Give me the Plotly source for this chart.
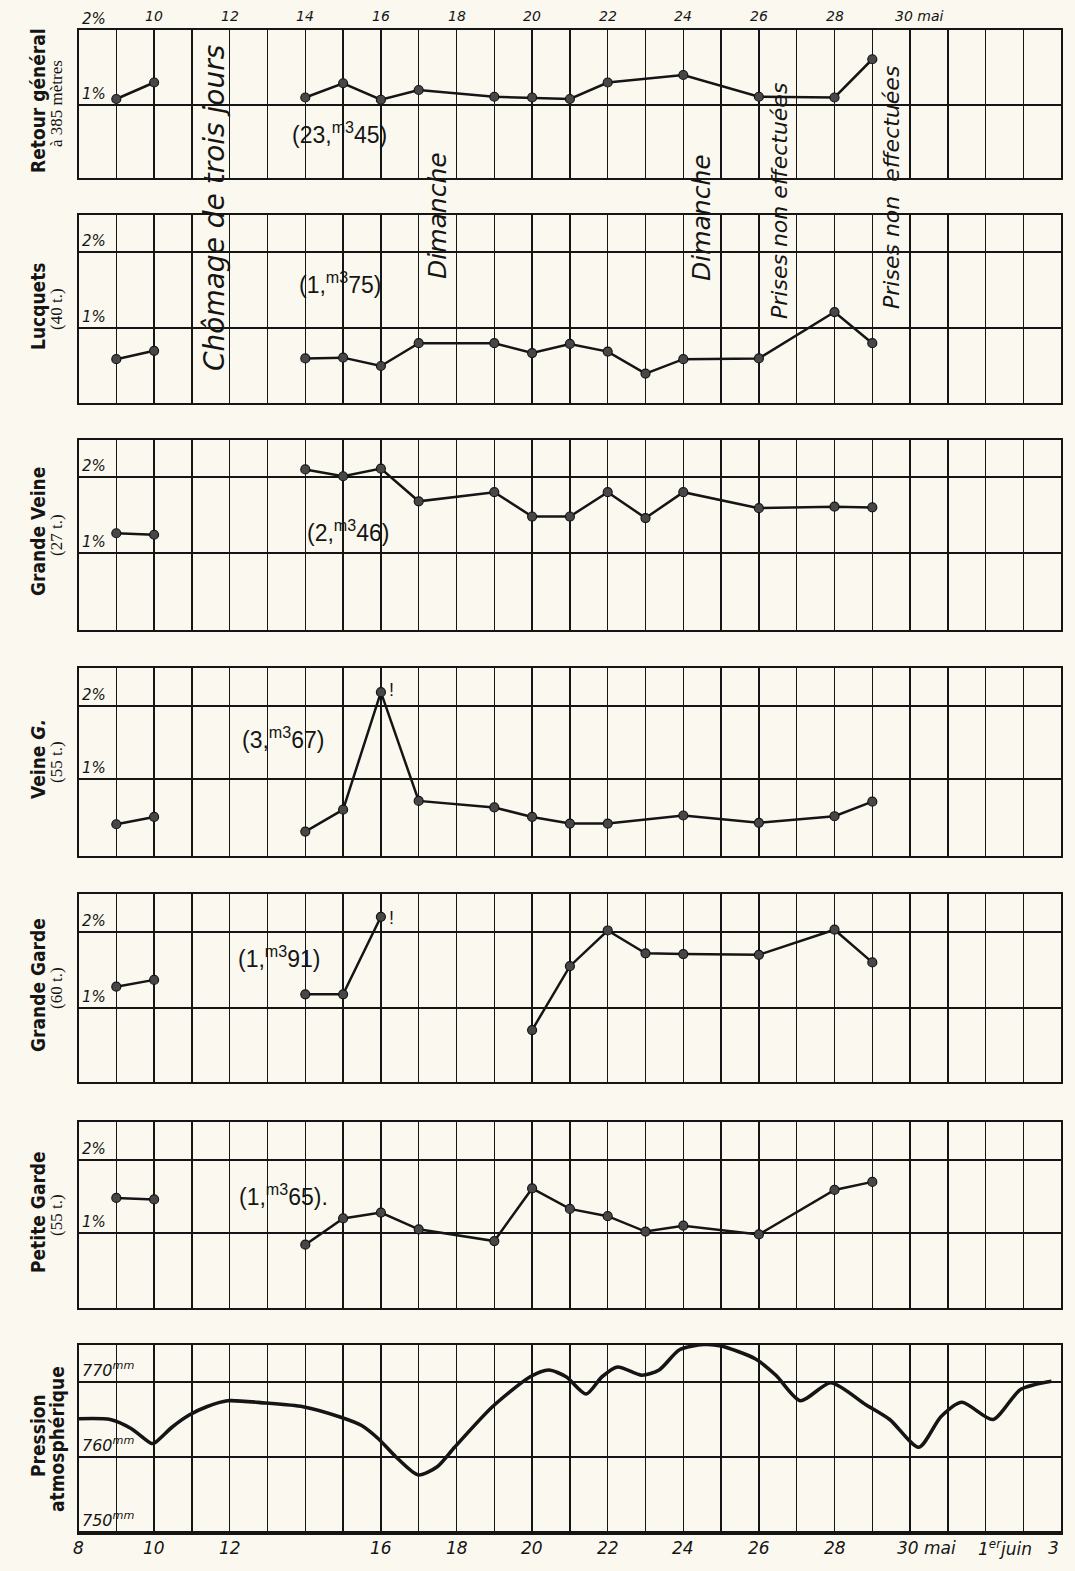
import plotly.graph_objects as go

# ---------------------------------------------------------------- data
# x = day of May (31 = 31 mai, 32 = 1er juin, 34 = 3 juin)
days_retour = [9, 10, 14, 15, 16, 17, 19, 20, 21, 22, 24, 26, 28, 29]
retour = [1.08, 1.30, 1.10, 1.29, 1.07, 1.20, 1.11, 1.10, 1.08, 1.30, 1.40, 1.11, 1.10, 1.61]

days_lucquets = [9, 10, 14, 15, 16, 17, 19, 20, 21, 22, 23, 24, 26, 28, 29]
lucquets = [0.59, 0.70, 0.60, 0.61, 0.50, 0.80, 0.80, 0.67, 0.79, 0.69, 0.40, 0.59, 0.60, 1.21, 0.80]

days_gveine = [9, 10, 14, 15, 16, 17, 19, 20, 21, 22, 23, 24, 26, 28, 29]
grande_veine = [1.26, 1.24, 2.10, 2.01, 2.11, 1.68, 1.80, 1.48, 1.48, 1.80, 1.46, 1.80, 1.59, 1.61, 1.60]

days_veineg = [9, 10, 14, 15, 16, 17, 19, 20, 21, 22, 24, 26, 28, 29]
veine_g = [0.38, 0.48, 0.28, 0.58, 2.19, 0.70, 0.61, 0.48, 0.39, 0.39, 0.50, 0.40, 0.49, 0.69]

days_ggarde = [9, 10, 14, 15, 16, 20, 21, 22, 23, 24, 26, 28, 29]
grande_garde = [1.28, 1.37, 1.18, 1.18, 2.20, 0.71, 1.55, 2.02, 1.72, 1.71, 1.70, 2.03, 1.60]

days_pgarde = [9, 10, 14, 15, 16, 17, 19, 20, 21, 22, 23, 24, 26, 28, 29]
petite_garde = [1.48, 1.46, 0.84, 1.20, 1.28, 1.05, 0.89, 1.61, 1.33, 1.23, 1.02, 1.10, 0.98, 1.59, 1.70]

days_pression = [8.0, 8.84, 9.39, 9.93, 10.02, 10.48, 10.93, 11.39, 11.94, 12.94, 13.94, 14.94,
                 15.49, 15.94, 16.4, 16.99, 17.49, 17.95, 18.95, 19.95, 20.44, 20.9, 21.43,
                 21.85, 22.26, 22.9, 23.36, 23.9, 24.54, 25.0, 25.9, 26.45, 27.1, 27.9, 28.82,
                 29.46, 30.23, 30.82, 31.37, 32.19, 32.92, 33.74]
pression = [765.1, 765.0, 763.8, 761.8, 761.9, 764.0, 765.6, 766.7, 767.5, 767.2, 766.7, 765.3,
            764.2, 762.4, 760.0, 757.6, 758.7, 761.3, 766.7, 770.7, 771.6, 770.7, 768.4,
            770.7, 772.0, 770.9, 771.6, 774.3, 775.0, 774.8, 773.1, 770.9, 767.5, 769.9, 767.0,
            765.0, 761.3, 765.4, 767.3, 765.0, 769.0, 770.1]

volumes = ["(23,<sup>m3</sup>45)", "(1,<sup>m3</sup>75)", "(2,<sup>m3</sup>46)", "(3,<sup>m3</sup>67)",
           "(1,<sup>m3</sup>91)", "(1,<sup>m3</sup>65)."]

panel_titles = ["Retour général", "Lucquets", "Grande Veine", "Veine <i>G.</i>",
                "Grande Garde", "Petite Garde", "Pression"]
panel_subtitles = ["à 385 mètres", "(40 t.)", "(27 t.)", "(55 t.)", "(60 t.)", "(55 t.)", "atmosphérique"]

top_ticks = [10, 12, 14, 16, 18, 20, 22, 24, 26, 28]
bottom_ticks = [8, 10, 12, 16, 18, 20, 22, 24, 26, 28]
pct_ticks = [1, 2]
mm_ticks = [750, 760, 770]

# ---------------------------------------------------------------- layout geometry
W, H = 1075, 1571
PAPER = "#fbf9ef"
INK = "#151515"
X_LEFT, X_RIGHT = 78.5, 78.5 + 26 * 37.8
panels = [  # top px, bottom px, (value, px), (value, px)
    (30, 178, (1, 105), (2, 30)),
    (215, 403, (1, 328), (2, 252)),
    (440, 630, (1, 553), (2, 477)),
    (668, 856, (1, 779), (2, 706)),
    (894, 1082, (1, 1008), (2, 932)),
    (1122, 1308, (1, 1233), (2, 1160)),
    (1345, 1533, (760, 1457), (770, 1382)),
]

SANS = "Liberation Sans, Arial, sans-serif"
HAND = "DejaVu Sans, sans-serif"
NARROW = "Liberation Sans Narrow, DejaVu Sans Condensed, Liberation Sans, sans-serif"
SERIF = "Liberation Serif, DejaVu Serif, serif"


def fx(x):
    return x / W


def fy(y):
    return 1 - y / H


def note(text, x, y, size, family=HAND, italic=False, angle=0, xanchor="center",
         yanchor="middle", xref="paper", yref="paper", weight="normal"):
    return dict(text=text, x=x, y=y, xref=xref, yref=yref, xanchor=xanchor, yanchor=yanchor,
                textangle=angle, showarrow=False,
                font=dict(family=family, size=size, color=INK, weight=weight,
                          style="italic" if italic else "normal"))


def with_gaps(xs, ys):
    ox, oy = [], []
    for i, (x, y) in enumerate(zip(xs, ys)):
        if i and x - xs[i - 1] > 2:
            ox.append(None)
            oy.append(None)
        ox.append(x)
        oy.append(y)
    return ox, oy


fig = go.Figure()
series = [(days_retour, retour), (days_lucquets, lucquets), (days_gveine, grande_veine),
          (days_veineg, veine_g), (days_ggarde, grande_garde), (days_pgarde, petite_garde)]

layout = dict(width=W, height=H, paper_bgcolor=PAPER, plot_bgcolor=PAPER,
              margin=dict(l=0, r=0, t=0, b=0), showlegend=False, hovermode=False)
annotations = []

for i, (top, bottom, (v1, p1), (v2, p2)) in enumerate(panels):
    k = "" if i == 0 else str(i + 1)
    slope = (v2 - v1) / (p1 - p2)
    ymin = v1 - (bottom - p1) * slope
    ymax = v1 + (p1 - top) * slope
    layout["xaxis" + k] = dict(domain=[fx(X_LEFT), fx(X_RIGHT)], anchor="y" + k, range=[8, 34],
                               tick0=8, dtick=1, showgrid=True, gridcolor=INK, gridwidth=1.3,
                               showticklabels=False, ticks="", zeroline=False, showline=True,
                               mirror=True, linecolor=INK, linewidth=1.7)
    layout["yaxis" + k] = dict(domain=[fy(bottom), fy(top)], anchor="x" + k, range=[ymin, ymax],
                               tickvals=(mm_ticks if i == 6 else pct_ticks), showgrid=True,
                               gridcolor=INK, gridwidth=1.3, showticklabels=False, ticks="",
                               zeroline=False, showline=True, mirror=True, linecolor=INK,
                               linewidth=1.7)
    if i < 6:
        xs, ys = with_gaps(*series[i])
        fig.add_trace(go.Scatter(x=xs, y=ys, xaxis="x" + k, yaxis="y" + k, mode="lines+markers",
                                 line=dict(color=INK, width=2.5),
                                 marker=dict(size=9, color="#474747", line=dict(color=INK, width=1.2)),
                                 hoverinfo="skip"))
        for t in pct_ticks:
            if i == 0 and t == 2:
                continue
            annotations.append(note(f"{t}%", 8.05, t, 15, italic=True, xanchor="left",
                                    yanchor="bottom", xref="x" + k, yref="y" + k))
    else:
        fig.add_trace(go.Scatter(x=days_pression, y=pression, xaxis="x" + k, yaxis="y" + k,
                                 mode="lines", line=dict(color=INK, width=3.6, shape="spline",
                                                         smoothing=0.7),
                                 hoverinfo="skip"))
        for t in mm_ticks:
            annotations.append(note(f"{t}<sup>mm</sup>", 8.05, t, 16, italic=True, xanchor="left",
                                    yanchor="bottom", xref="x" + k, yref="y" + k))
    cy = (top + bottom) / 2
    annotations.append(note(panel_titles[i], fx(38), fy(cy - 3), 19, family=NARROW, angle=-90,
                            weight="bold"))
    if i == 6:
        annotations.append(note(panel_subtitles[i], fx(57), fy(cy), 19, family=NARROW,
                                angle=-90, weight="bold"))
    else:
        annotations.append(note(panel_subtitles[i], fx(56), fy(cy), 17, family=SERIF, angle=-90))

# "2%" of the top panel, written above the frame
annotations.append(note("2%", 8.05, 2, 15, italic=True, xanchor="left", yanchor="bottom",
                        xref="x", yref="y"))

# top day labels
for d in top_ticks:
    annotations.append(note(str(d), d, fy(16), 14, italic=True, xref="x"))
annotations.append(note("30 mai", 29.55, fy(16), 14, italic=True, xanchor="left", xref="x"))

# bottom day labels
for d in bottom_ticks:
    annotations.append(note(str(d), d, fy(1548), 17, italic=True, xref="x7"))
annotations.append(note("30 mai", 29.6, fy(1548), 17, italic=True, xanchor="left", xref="x7"))
annotations.append(note("1<sup>er</sup>juin", 31.75, fy(1548), 17, italic=True, xanchor="left",
                        xref="x7"))
annotations.append(note("3", 33.8, fy(1548), 17, italic=True, xref="x7"))

# volume labels inside panels
vol_pos = [(339, 133), (340, 283), (348, 531), (283, 738), (279, 957), (283, 1195)]
for txt, (px, py) in zip(volumes, vol_pos):
    annotations.append(note(txt, fx(px), fy(py), 23, family=SANS))
for py in (690, 918):
    annotations.append(note("!", fx(392), fy(py), 18, family=SANS))

# vertical remarks
remarks = [("Chômage de trois jours", 215, 208, 28),
           ("Dimanche", 438, 216, 25),
           ("Dimanche", 701, 218, 25),
           ("Prises non effectuées", 779, 201, 22),
           ("Prises non  effectuées", 891, 188, 22)]
for txt, px, py, sz in remarks:
    annotations.append(note(txt, fx(px), fy(py), sz, italic=True, angle=-90))

layout["annotations"] = annotations
fig.update_layout(**layout)
fig.write_html("out.html", config={"displayModeBar": False, "staticPlot": True},
               post_script="document.body.style.margin='0';document.body.style.overflow='hidden';")
